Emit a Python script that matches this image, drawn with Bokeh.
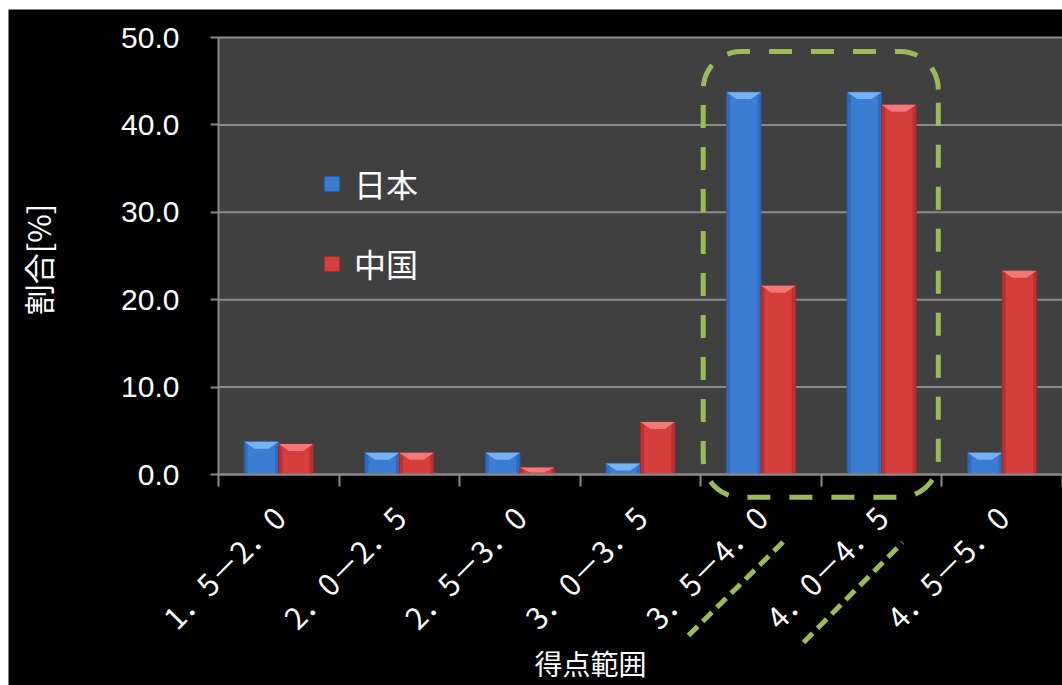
import math

from bokeh.embed import file_html
from bokeh.models import (FixedTicker, Label, Legend, LegendItem,
                          PrintfTickFormatter, Range1d)
from bokeh.plotting import figure
from bokeh.resources import INLINE

# score bands and share of respondents (%) per country
categories = ["1．5－2．0", "2．0－2．5", "2．5－3．0", "3．0－3．5",
              "3．5－4．0", "4．0－4．5", "4．5－5．0"]
japan = [3.75, 2.5, 2.5, 1.25, 43.75, 43.75, 2.5]
china = [3.5, 2.5, 0.8, 6.0, 21.6, 42.3, 23.3]
y_ticks = [0, 10, 20, 30, 40, 50]

GRID = "#8a8a8a"
GREEN = "#9bbb59"
CJK = "Noto Sans CJK JP"

# canvas geometry (pixels): the frame covers the whole canvas and the
# axes sit at fixed data locations, so the callouts may run below the axis
W, H = 1054, 676
AREA_L, AREA_R, AREA_T, AREA_B = 210, 1054, 28, 465
n = len(categories)
y_top = y_ticks[-1]
ppx = (AREA_R - AREA_L) / n
ppy = (AREA_B - AREA_T) / y_top
x_range = Range1d(-AREA_L / ppx, n + (W - AREA_R) / ppx)
y_range = Range1d(-(H - AREA_B) / ppy, y_top + AREA_T / ppy)

p = figure(width=W, height=H, x_range=x_range, y_range=y_range,
           output_backend="svg", toolbar_location=None,
           min_border=0, min_border_left=0, min_border_right=0,
           min_border_top=0, min_border_bottom=0,
           background_fill_color="black", border_fill_color="black",
           outline_line_color=None)
p.margin = (9, 0, 0, 8)
p.grid.visible = False

# plot area and horizontal grid lines
p.quad(left=0, right=n, bottom=y_ticks[0], top=y_top,
       fill_color="#404040", line_color=None)
p.segment(x0=[0] * len(y_ticks), x1=[n] * len(y_ticks), y0=y_ticks,
          y1=y_ticks, line_color=GRID, line_width=2)

# ---- axes -------------------------------------------------------------
centers = [i + 0.5 for i in range(n)]
bounds = list(range(n + 1))

xa = p.xaxis[0]
xa.fixed_location = 0
xa.bounds = (0, n)
xa.ticker = FixedTicker(ticks=centers, minor_ticks=bounds)
xa.major_label_overrides = {c: lab for c, lab in zip(centers, categories)}
xa.major_label_orientation = math.pi / 4
xa.major_label_text_font = CJK
xa.major_label_text_font_size = "30px"
xa.major_label_text_color = "white"
xa.major_label_standoff = 25
xa.major_tick_out = 0
xa.major_tick_in = 0
xa.minor_tick_out = 12
xa.minor_tick_in = 0
xa.minor_tick_line_color = GRID
xa.minor_tick_line_width = 2
xa.axis_line_color = GRID
xa.axis_line_width = 2

ya = p.yaxis[0]
ya.fixed_location = 0
ya.bounds = (y_ticks[0], y_top)
ya.ticker = FixedTicker(ticks=y_ticks)
ya.formatter = PrintfTickFormatter(format="%.1f")
ya.major_label_text_font = "Liberation Sans"
ya.major_label_text_font_size = "30px"
ya.major_label_text_color = "white"
ya.major_label_standoff = 31
ya.major_tick_out = 8
ya.major_tick_in = 0
ya.major_tick_line_color = GRID
ya.major_tick_line_width = 2
ya.minor_tick_out = 0
ya.minor_tick_in = 0
ya.axis_line_color = GRID
ya.axis_line_width = 2

# ---- bevelled bars ------------------------------------------------------
BAR_W = 0.286
BEV_X = 0.085
BEV_Y = 0.8
EDGE_W = 0.03


def bevelled_bars(xs, tops, main, light, dark):
    bars = p.vbar(x=xs, top=tops, bottom=0, width=BAR_W,
                  fill_color=main, line_color=dark, line_width=1)
    # darker side facets
    p.vbar(x=[x - BAR_W / 2 + EDGE_W / 2 for x in xs], top=tops, bottom=0,
           width=EDGE_W, fill_color=dark, fill_alpha=0.55, line_color=None)
    p.vbar(x=[x + BAR_W / 2 - EDGE_W / 2 for x in xs], top=tops, bottom=0,
           width=EDGE_W, fill_color=dark, fill_alpha=0.55, line_color=None)
    # lighter top facet
    px, py = [], []
    for x, t in zip(xs, tops):
        l, r = x - BAR_W / 2, x + BAR_W / 2
        d = min(BEV_Y, t * 0.7)
        px.append([l, r, r - BEV_X, l + BEV_X])
        py.append([t, t, t - d, t - d])
    p.patches(px, py, fill_color=light, line_color=None)
    return bars


half = BAR_W / 2
r_jp = bevelled_bars([c - half for c in centers], japan,
                     "#3c7dd4", "#78b2f2", "#2a5ca6")
r_cn = bevelled_bars([c + half for c in centers], china,
                     "#d63d3d", "#f07a7a", "#a02a2a")

legend = Legend(items=[LegendItem(label="日本", renderers=[r_jp]),
                       LegendItem(label="中国", renderers=[r_cn])],
                location=(314, 399), orientation="vertical",
                glyph_width=19, glyph_height=19, label_height=44,
                spacing=34, padding=0, margin=0, label_standoff=13,
                label_text_font=CJK, label_text_font_size="32px",
                label_text_color="white", label_text_baseline="middle",
                background_fill_alpha=0, border_line_alpha=0)
p.add_layout(legend)

# ---- axis titles ----------------------------------------------------------
p.add_layout(Label(x=3.085, y=-21.6, text="得点範囲", text_align="center",
                   text_baseline="middle", text_font=CJK,
                   text_font_size="28px", text_color="white"))
p.add_layout(Label(x=-1.50, y=24.6, text="割合[%]", angle=math.pi / 2,
                   text_align="center", text_baseline="middle",
                   text_font=CJK, text_font_size="31px",
                   text_color="white"))

# ---- callout around the two top bands -----------------------------------
left, right, top, bottom = 4.02, 5.97, 48.4, -2.6
rx, ry = 0.315, 4.35
hx, hy = [], []
corners = [(right - rx, top - ry, 0), (left + rx, top - ry, 90),
           (left + rx, bottom + ry, 180), (right - rx, bottom + ry, 270)]
for cx, cy, a0 in corners:
    for k in range(13):
        a = math.radians(a0 + k * 90 / 12)
        hx.append(cx + rx * math.cos(a))
        hy.append(cy + ry * math.sin(a))
hx.append(hx[0])
hy.append(hy[0])
p.line(hx, hy, line_color=GREEN, line_width=5, line_dash="23 19")

p.segment(x0=[3.898, 4.852], y0=[-18.42, -19.22],
          x1=[4.686, 5.673], y1=[-7.67, -7.78],
          line_color=GREEN, line_width=5, line_dash="13 7")

open("out.html", "w").write(file_html(p, INLINE))
